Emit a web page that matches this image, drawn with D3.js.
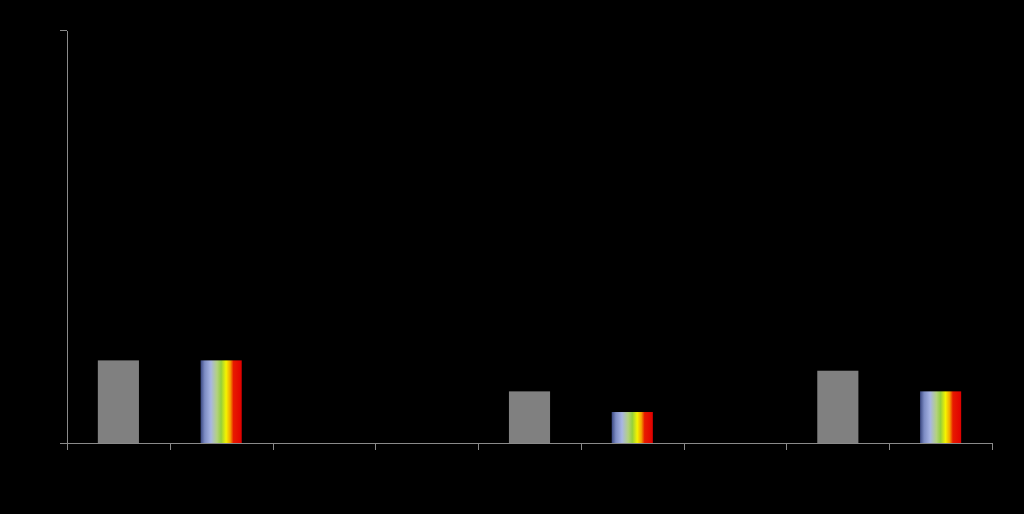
<!DOCTYPE html>
<html>
<head>
<meta charset="utf-8">
<script src="https://cdn.jsdelivr.net/npm/d3@7/dist/d3.min.js"></script>
<style>
  html, body { margin: 0; padding: 0; background: #000; }
  .axis path, .axis line { fill: none; stroke: #8a8a8a; stroke-width: 1px; shape-rendering: crispEdges; }
</style>
</head>
<body>
<div id="container"></div>
<script>
  // categories (no labels shown in the original)
  const categories = ["c1", "c2", "c3", "c4", "c5", "c6", "c7", "c8", "c9"];
  // bar values per category, null = empty slot
  const values = [8, 8, null, null, 5, 3, null, 7, 5];
  // fill style per category: "gray" or "rainbow"
  const fills = ["gray", "rainbow", null, null, "gray", "rainbow", null, "gray", "rainbow"];
  const yDomain = [0, 40];
  const yTicks = [0, 40];

  const margin = { top: 30, right: 32, bottom: 71, left: 67 };
  const width = 1024 - margin.left - margin.right;
  const height = 514 - margin.top - margin.bottom;

  const svg = d3.select("#container").append("svg")
    .attr("width", 1024)
    .attr("height", 514)
    .style("display", "block")
    .style("background", "#000");

  // rainbow gradient for the second series
  const grad = svg.append("defs").append("linearGradient")
    .attr("id", "rainbow")
    .attr("x1", "0%").attr("x2", "100%")
    .attr("y1", "0%").attr("y2", "0%");
  [
    [0, "#3a4780"], [0.1, "#7d8cc4"], [0.25, "#a9b6e4"], [0.4, "#b4d27e"],
    [0.5, "#96d03c"], [0.62, "#f4f400"], [0.72, "#f4a400"], [0.8, "#e81a00"], [1, "#e00000"]
  ].forEach(function(s) {
    grad.append("stop").attr("offset", s[0]).attr("stop-color", s[1]);
  });

  const g = svg.append("g")
    .attr("transform", "translate(" + margin.left + "," + margin.top + ")");

  const scaleX = d3.scaleBand()
    .domain(categories)
    .range([0, width])
    .paddingInner(0.6)
    .paddingOuter(0.3);

  const scaleY = d3.scaleLinear()
    .domain(yDomain)
    .range([height, 0]);

  const data = categories.map(function(c, i) {
    return { cat: c, value: values[i], fill: fills[i] };
  }).filter(function(d) { return d.value != null; });

  g.selectAll("rect.bar")
    .data(data)
    .enter().append("rect")
    .attr("class", "bar")
    .attr("x", function(d) { return scaleX(d.cat); })
    .attr("width", scaleX.bandwidth())
    .attr("y", function(d) { return scaleY(d.value); })
    .attr("height", function(d) { return height - scaleY(d.value); })
    .attr("fill", function(d) { return d.fill === "rainbow" ? "url(#rainbow)" : "#808080"; });

  // y axis
  g.append("g")
    .attr("class", "axis")
    .call(d3.axisLeft(scaleY).tickValues(yTicks).tickSize(7).tickSizeOuter(0).tickFormat(""));

  // x axis with ticks on category boundaries
  const step = width / categories.length;
  const boundaries = d3.range(categories.length + 1).map(function(i) { return i * step; });
  const xLin = d3.scaleLinear().domain([0, width]).range([0, width]);
  g.append("g")
    .attr("class", "axis")
    .attr("transform", "translate(0," + height + ")")
    .call(d3.axisBottom(xLin).tickValues(boundaries).tickSize(7).tickSizeOuter(0).tickFormat(""));
</script>
</body>
</html>
